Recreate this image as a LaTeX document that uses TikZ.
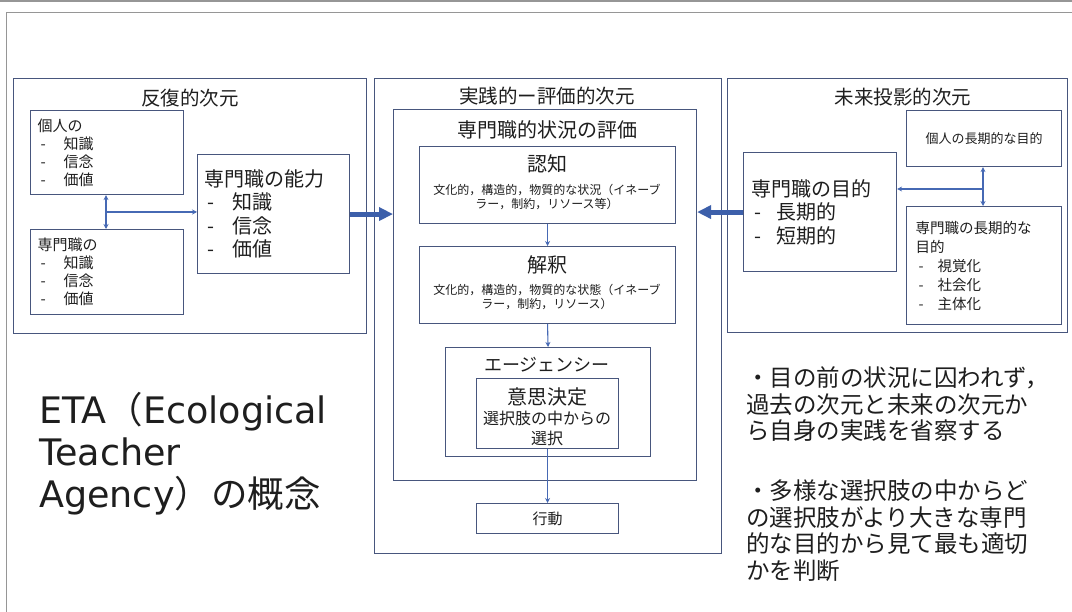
\documentclass[tikz,border=0pt]{standalone}
\usepackage{fontspec}
\setmainfont{Noto Sans CJK JP}
\newfontfamily\jp{Noto Sans CJK JP}
\newfontfamily\lat{DejaVu Sans}
\usetikzlibrary{arrows.meta}
\definecolor{boxc}{RGB}{72,86,125}
\definecolor{connc}{RGB}{70,105,180}
\definecolor{bigc}{RGB}{60,95,170}
\definecolor{txtc}{RGB}{30,30,30}
\definecolor{framec}{RGB}{150,150,150}
\newcommand\fs[2]{\fontsize{#1}{#2}\selectfont}
\newcommand\dli[2]{\makebox[#1][l]{\hspace{3pt}-}#2}
\begin{document}
\begin{tikzpicture}[x=1pt,y=-1pt,
  panel/.style={draw=boxc, line width=1.1pt, anchor=north west, inner sep=0pt},
  box/.style={draw=boxc, line width=1.1pt, anchor=north west, inner sep=0pt, text=txtc},
  lbox/.style={box, align=left},
  lab/.style={text=txtc, inner sep=0pt},
  conn/.style={draw=connc, line width=1.1pt, arrows={-Stealth[length=5pt,width=5pt]}},
  conntwo/.style={draw=connc, line width=1.1pt, arrows={Stealth[length=5pt,width=5pt]-Stealth[length=5pt,width=5pt]}},
  big/.style={draw=bigc, line width=5pt, arrows={-Triangle[length=14pt,width=13pt]}},
]
\useasboundingbox (0,0) rectangle (1072,612);
\fill[white] (0,0) rectangle (1072,612);
\fill[framec] (0,0) rectangle (1072,2.5);
\draw[framec, line width=1.3pt] (6.5,612) -- (6.5,12.5) -- (1072,12.5);

% ---------- left panel ----------
\node[panel, minimum width=353pt, minimum height=255pt] (lp) at (13,78) {};
\node[lab, font=\fs{19.5}{22}] (lpt) at (190,98) {反復的次元};
\node[lbox, inner xsep=7pt, text width=139pt, minimum height=84pt, font=\fs{15}{18}] (pers) at (30,110)
  {個人の\\\dli{26pt}{知識}\\\dli{26pt}{信念}\\\dli{26pt}{価値}};
\node[lbox, inner xsep=7pt, text width=139pt, minimum height=85pt, font=\fs{15}{18}] (prof) at (30,229)
  {専門職の\\\dli{26pt}{知識}\\\dli{26pt}{信念}\\\dli{26pt}{価値}};
\node[lbox, inner xsep=7pt, text width=138pt, minimum height=119pt, font=\fs{20}{23.5}] (cap) at (197,154)
  {専門職の能力\\\dli{28pt}{知識}\\\dli{28pt}{信念}\\\dli{28pt}{価値}};
\coordinate (j1) at (106,212);
\draw[conntwo] (pers.south -| j1) -- (prof.north -| j1);
\draw[conn] (j1) -- (cap.west |- j1);

% ---------- middle panel ----------
\node[panel, minimum width=347pt, minimum height=475pt] (mp) at (374,78) {};
\node[lab, font=\fs{19.5}{22}] (mpt) at (547,96) {実践的ー評価的次元};
\node[box, minimum width=303pt, minimum height=371pt] (eval) at (393,109) {};
\node[lab, font=\fs{20}{24}] (evalt) at (547,130) {専門職的状況の評価};
\node[box, minimum width=256pt, minimum height=77pt] (cog) at (419,146) {};
\node[lab, font=\fs{20}{24}] (cogt) at (547,164) {認知};
\node[lab, align=center, font=\fs{12}{13.5}] (cogs) at (547,197)
  {文化的，構造的，物質的な状況（イネーブ\\ラー，制約，リソース等）};
\node[box, minimum width=256pt, minimum height=77pt] (interp) at (419,246) {};
\node[lab, font=\fs{20}{24}] (interpt) at (547,265) {解釈};
\node[lab, align=center, font=\fs{12}{13.5}] (interps) at (547,297)
  {文化的，構造的，物質的な状態（イネーブ\\ラー，制約，リソース）};
\node[box, minimum width=205pt, minimum height=109pt] (agency) at (445,347) {};
\node[lab, font=\fs{18}{22}] (agencyt) at (547,365) {エージェンシー};
\node[box, minimum width=142pt, minimum height=70pt] (dec) at (476,378) {};
\node[lab, font=\fs{20}{24}] (dect) at (547,397) {意思決定};
\node[lab, align=center, font=\fs{16}{20}] (decs) at (547,428) {選択肢の中からの\\選択};
\node[box, minimum width=142pt, minimum height=30pt, font=\fs{15}{18}] (act) at (476,503) {行動};
\draw[conn] (cog.south) -- (interp.north);
\draw[conn] (interp.south) -- (agency.north);
\draw[conn] (dec.south) -- (act.north);

% ---------- right panel ----------
\node[panel, minimum width=340pt, minimum height=254pt] (rp) at (727,78) {};
\node[lab, font=\fs{19.5}{22}] (rpt) at (903,97) {未来投影的次元};
\node[box, minimum width=155pt, minimum height=56pt, font=\fs{13}{16}] (ltg) at (906,110) {個人の長期的な目的};
\node[lbox, inner xsep=8pt, text width=137pt, minimum height=119pt, font=\fs{20}{23.5}] (goal) at (743,152)
  {専門職の目的\\\dli{25pt}{長期的}\\\dli{25pt}{短期的}};
\node[lbox, inner xsep=9pt, text width=137pt, minimum height=118pt, font=\fs{14.5}{19}] (pltg) at (906,206)
  {専門職の長期的な\\目的\\\dli{22pt}{視覚化}\\\dli{22pt}{社会化}\\\dli{22pt}{主体化}};
\coordinate (j2) at (983,189);
\draw[conntwo] (ltg.south -| j2) -- (pltg.north -| j2);
\draw[conn] (j2) -- (goal.east |- j2);

% ---------- big arrows ----------
\draw[big] (cap.east) -- (cap.east -| eval.west);
\draw[big] (goal.west) -- (goal.west -| eval.east);

% ---------- free texts ----------
\node[lab, anchor=base west, align=left, text width=330pt, font=\lat\fs{36.5}{42}] (eta) at (39,424)
  {ETA{\jp （}Ecological\\Teacher\\Agency{\jp ）の概念}};
\node[lab, anchor=base west, align=left, text width=330pt, font=\fs{23.5}{26.5}] (note) at (746,387)
  {・目の前の状況に囚われず，\\過去の次元と未来の次元か\\ら自身の実践を省察する\\[33.5pt]・多様な選択肢の中からど\\の選択肢がより大きな専門\\的な目的から見て最も適切\\かを判断};
\end{tikzpicture}
\end{document}
